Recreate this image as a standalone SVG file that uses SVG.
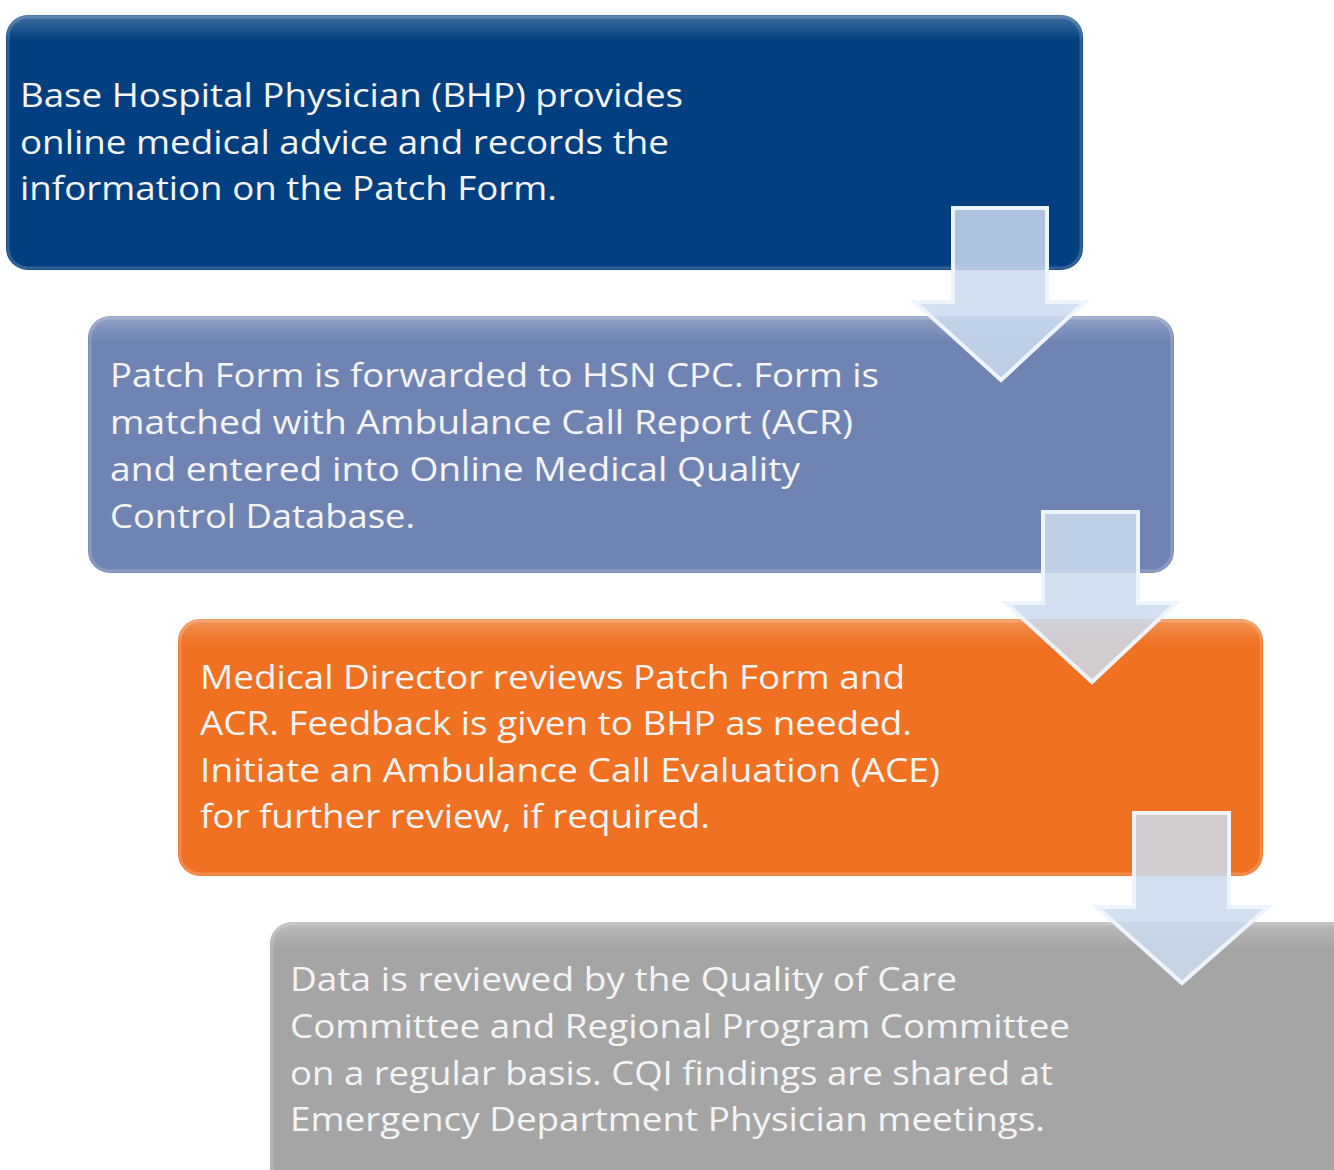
<svg xmlns="http://www.w3.org/2000/svg" width="1334" height="1170" viewBox="0 0 1334 1170">
<defs>
<style>
.t{font-family:"Open Sans","Liberation Sans",Arial,sans-serif;font-size:33px;fill:#f4f4f4}
.arr{fill:#cbdaee;fill-opacity:0.85;stroke:#eef4fb;stroke-width:4;stroke-linejoin:miter}
.hl{fill:none;stroke:#ffffff;stroke-opacity:0.18;stroke-width:3}
</style>
<linearGradient id="sheen" x1="0" y1="0" x2="0" y2="1">
<stop offset="0" stop-color="#fff" stop-opacity="0.25"/>
<stop offset="0.1" stop-color="#fff" stop-opacity="0"/>
<stop offset="1" stop-color="#fff" stop-opacity="0"/>
</linearGradient>
</defs>
<rect width="1334" height="1170" fill="#fff"/>
<g id="node1">
<rect x="6" y="15" width="1077" height="255" rx="22" fill="#023f80"/>
<rect x="6" y="15" width="1077" height="255" rx="22" fill="url(#sheen)"/>
<rect x="8" y="17" width="1073" height="251" rx="20" class="hl"/>
<text class="t" x="20" y="107" textLength="663" lengthAdjust="spacingAndGlyphs">Base Hospital Physician (BHP) provides</text>
<text class="t" x="20" y="154" textLength="649" lengthAdjust="spacingAndGlyphs">online medical advice and records the</text>
<text class="t" x="20" y="200" textLength="537" lengthAdjust="spacingAndGlyphs">information on the Patch Form.</text>
</g>
<g id="node2">
<rect x="88" y="316" width="1086" height="257" rx="22" fill="#7084b3"/>
<rect x="88" y="316" width="1086" height="257" rx="22" fill="url(#sheen)"/>
<rect x="90" y="318" width="1082" height="253" rx="20" class="hl"/>
<text class="t" x="110" y="387" textLength="769" lengthAdjust="spacingAndGlyphs">Patch Form is forwarded to HSN CPC. Form is</text>
<text class="t" x="110" y="434" textLength="743" lengthAdjust="spacingAndGlyphs">matched with Ambulance Call Report (ACR)</text>
<text class="t" x="110" y="481" textLength="690" lengthAdjust="spacingAndGlyphs">and entered into Online Medical Quality</text>
<text class="t" x="110" y="528" textLength="305" lengthAdjust="spacingAndGlyphs">Control Database.</text>
</g>
<g id="node3">
<rect x="178" y="619" width="1085" height="257" rx="22" fill="#ef7121"/>
<rect x="178" y="619" width="1085" height="257" rx="22" fill="url(#sheen)"/>
<rect x="180" y="621" width="1081" height="253" rx="20" class="hl"/>
<text class="t" x="200" y="689" textLength="705" lengthAdjust="spacingAndGlyphs">Medical Director reviews Patch Form and</text>
<text class="t" x="200" y="735" textLength="712" lengthAdjust="spacingAndGlyphs">ACR. Feedback is given to BHP as needed.</text>
<text class="t" x="200" y="782" textLength="740" lengthAdjust="spacingAndGlyphs">Initiate an Ambulance Call Evaluation (ACE)</text>
<text class="t" x="200" y="828" textLength="510" lengthAdjust="spacingAndGlyphs">for further review, if required.</text>
</g>
<g id="node4">
<rect x="270" y="922" width="1090" height="270" rx="22" fill="#a5a5a5"/>
<rect x="270" y="922" width="1090" height="270" rx="22" fill="url(#sheen)"/>
<rect x="272" y="924" width="1086" height="266" rx="20" class="hl"/>
<text class="t" x="290" y="991" textLength="667" lengthAdjust="spacingAndGlyphs">Data is reviewed by the Quality of Care</text>
<text class="t" x="290" y="1038" textLength="780" lengthAdjust="spacingAndGlyphs">Committee and Regional Program Committee</text>
<text class="t" x="290" y="1085" textLength="763" lengthAdjust="spacingAndGlyphs">on a regular basis. CQI findings are shared at</text>
<text class="t" x="290" y="1131" textLength="755" lengthAdjust="spacingAndGlyphs">Emergency Department Physician meetings.</text>
</g>
<g id="connectors">
<polygon class="arr" points="953,208 1047,208 1047,302 1085,302 1001,380 915,302 953,302"/>
<polygon class="arr" points="1043,512 1138,512 1138,603 1176,603 1092,682 1006,603 1043,603"/>
<polygon class="arr" points="1134,813 1229,813 1229,907 1268,907 1182,983 1097,907 1134,907"/>
</g>
</svg>
